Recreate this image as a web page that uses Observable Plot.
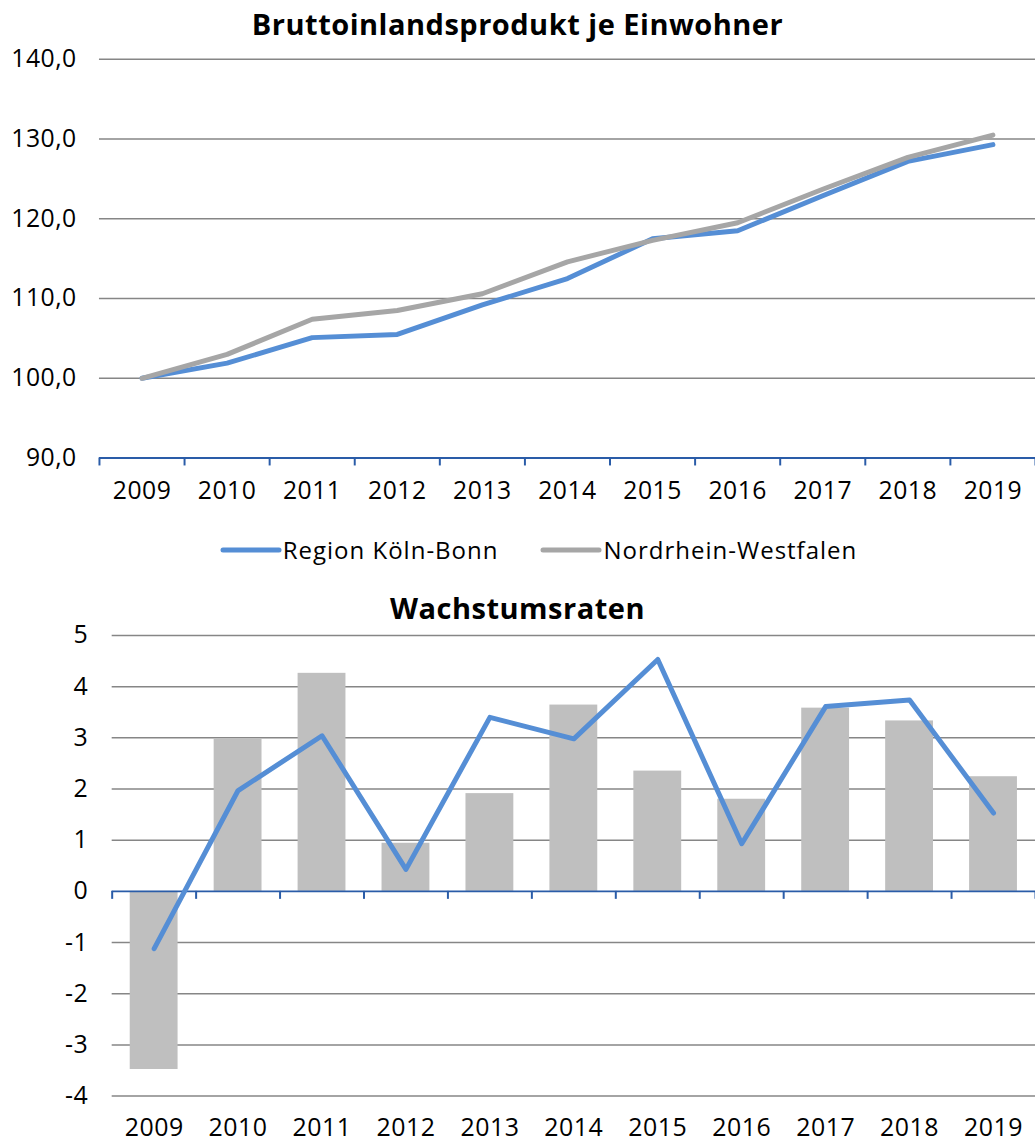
<!DOCTYPE html>
<html><head><meta charset="utf-8">
<script src="https://cdn.jsdelivr.net/npm/d3@7"></script>
<script src="https://cdn.jsdelivr.net/npm/@observablehq/plot@0.6"></script>
<style>
body{margin:0;background:#fff;font-family:"Open Sans",sans-serif;color:#000;}
#wrap{position:relative;width:1035px;height:1142px;overflow:hidden;background:#fff;}
.title{position:absolute;left:0;width:1035px;text-align:center;font-weight:bold;font-size:29px;letter-spacing:0.5px;line-height:38px;}
.chart{position:absolute;left:0;}
.chart svg text{letter-spacing:0.5px;}
#legend{position:absolute;left:21px;width:1035px;top:533px;display:flex;justify-content:center;align-items:center;font-size:24px;letter-spacing:1px;line-height:34px;}
.item{display:flex;align-items:center;}
.item + .item{margin-left:42px;}
.item svg{margin-right:1px;}
</style>
</head><body>
<div id="wrap">
  <div class="title" style="top:5px">Bruttoinlandsprodukt je Einwohner</div>
  <div class="chart" id="c1" style="top:40px"></div>
  <div id="legend"></div>
  <div class="title" style="top:589px">Wachstumsraten</div>
  <div class="chart" id="c2" style="top:620px"></div>
</div>
<script>
// ---- data ----
const years = [2009, 2010, 2011, 2012, 2013, 2014, 2015, 2016, 2017, 2018, 2019];
const seriesNames = ["Region Köln-Bonn", "Nordrhein-Westfalen"];
const indexKoelnBonn = [100.0, 101.9, 105.1, 105.5, 109.2, 112.5, 117.5, 118.5, 122.9, 127.2, 129.3];
const indexNRW       = [100.0, 103.0, 107.4, 108.5, 110.6, 114.6, 117.3, 119.5, 123.7, 127.7, 130.5];
const growthKoelnBonn = [-1.12, 1.97, 3.04, 0.43, 3.40, 2.98, 4.53, 0.93, 3.61, 3.74, 1.53];
const growthNRW       = [-3.48, 2.98, 4.26, 0.94, 1.91, 3.64, 2.35, 1.80, 3.58, 3.33, 2.24];
const yTicksTop = [90, 100, 110, 120, 130, 140];
const yTicksBottom = [-4, -3, -2, -1, 0, 1, 2, 3, 4, 5];

// ---- styles ----
const blue = "#558ed5";
const gray = "#a6a6a6";
const barGray = "#bfbfbf";
const gridGray = "#868686";
const axisBlue = "#2a5ca8";

const boundaries = years.map(y => y - 0.5).concat([years[years.length - 1] + 0.5]);
const kb = years.map((y, i) => ({year: y, value: indexKoelnBonn[i]}));
const nrw = years.map((y, i) => ({year: y, value: indexNRW[i]}));
const gKb = years.map((y, i) => ({year: y, value: growthKoelnBonn[i]}));
const gNrw = years.map((y, i) => ({year: y, value: growthNRW[i]}));

const commonStyle = {fontFamily: "Open Sans, sans-serif", fontSize: "25px", color: "#000", background: "transparent", overflow: "visible"};

const p1 = Plot.plot({
  width: 1046, height: 480,
  marginTop: 19, marginBottom: 58, marginLeft: 100, marginRight: 0,
  style: commonStyle,
  x: {domain: [boundaries[0], boundaries[boundaries.length - 1]], ticks: years, tickSize: 0, tickPadding: 24, tickFormat: d => String(d), label: null},
  y: {domain: [yTicksTop[0], yTicksTop[yTicksTop.length - 1]], ticks: yTicksTop, tickSize: 0, tickPadding: 23, tickFormat: d => d.toFixed(1).replace(".", ","), label: null},
  marks: [
    Plot.ruleY(yTicksTop.slice(1), {stroke: gridGray, strokeWidth: 1.5}),
    Plot.ruleY([yTicksTop[0]], {stroke: axisBlue, strokeWidth: 2}),
    Plot.ruleX(boundaries, {x: d => d, y1: yTicksTop[0], y2: yTicksTop[0], insetBottom: -8, stroke: axisBlue, strokeWidth: 2}),
    Plot.line(kb, {x: "year", y: "value", stroke: blue, strokeWidth: 5, strokeLinecap: "round", strokeLinejoin: "round"}),
    Plot.line(nrw, {x: "year", y: "value", stroke: gray, strokeWidth: 5, strokeLinecap: "round", strokeLinejoin: "round"})
  ]
});
document.getElementById("c1").appendChild(p1);

const p2 = Plot.plot({
  width: 1038, height: 522,
  marginTop: 15, marginBottom: 45, marginLeft: 112, marginRight: 0,
  style: commonStyle,
  x: {domain: [boundaries[0], boundaries[boundaries.length - 1]], ticks: years, tickSize: 0, tickPadding: 22, tickFormat: d => String(d), label: null},
  y: {domain: [yTicksBottom[0], yTicksBottom[yTicksBottom.length - 1]], ticks: yTicksBottom, tickSize: 0, tickPadding: 24, tickFormat: d => String(d), label: null},
  marks: [
    Plot.ruleY(yTicksBottom.filter(d => d !== 0), {stroke: gridGray, strokeWidth: 1.5}),
    Plot.rect(gNrw, {x1: d => d.year - 0.285, x2: d => d.year + 0.285, y1: 0, y2: "value", fill: barGray}),
    Plot.ruleY([0], {stroke: axisBlue, strokeWidth: 2}),
    Plot.ruleX(boundaries, {x: d => d, y1: 0, y2: 0, insetBottom: -8, stroke: axisBlue, strokeWidth: 2}),
    Plot.line(gKb, {x: "year", y: "value", stroke: blue, strokeWidth: 5, strokeLinecap: "round", strokeLinejoin: "round"})
  ]
});
document.getElementById("c2").appendChild(p2);

// legend
const legend = document.getElementById("legend");
[[seriesNames[0], blue], [seriesNames[1], gray]].forEach(([name, color]) => {
  const item = document.createElement("div");
  item.className = "item";
  item.innerHTML = `<svg width="62" height="10"><line x1="3" y1="5" x2="59" y2="5" stroke="${color}" stroke-width="5" stroke-linecap="round"/></svg><span>${name}</span>`;
  legend.appendChild(item);
});
</script>
</body></html>
